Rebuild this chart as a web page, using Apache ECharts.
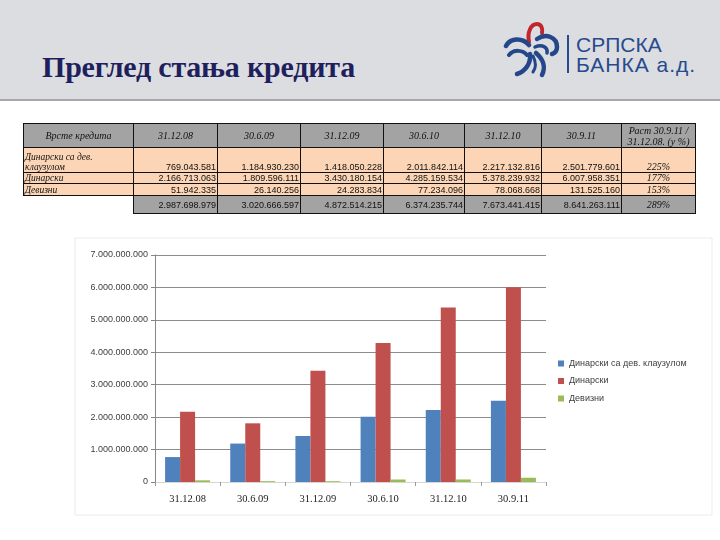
<!DOCTYPE html>
<html>
<head>
<meta charset="utf-8">
<script src="https://cdn.jsdelivr.net/npm/echarts@6/dist/echarts.min.js"></script>
<style>
  html, body { margin:0; padding:0; background:#fff; }
  #wrap { position:relative; width:720px; height:540px; overflow:hidden; background:#fff; }
  #chart { position:absolute; left:0; top:0; width:720px; height:540px; }
  #band { position:absolute; left:0; top:0; width:720px; height:99px; background:#dcdde0; border-bottom:2px solid #a8a8a8; }
  #title { position:absolute; left:42px; top:50px; margin:0; font-family:"Liberation Serif","DejaVu Serif",serif; font-weight:bold; font-size:30px; color:#1f1f5e; white-space:nowrap; letter-spacing:-0.2px; }
  #logo { position:absolute; left:500px; top:20px; }
  .logotxt { position:absolute; left:576px; font-family:"Liberation Sans",Arial,sans-serif; font-size:21px; color:#274a8e; white-space:nowrap; line-height:21px; }
  #tbl { position:absolute; left:23px; top:123px; border-collapse:collapse; table-layout:fixed; }
  #tbl td { border:1px solid #111; padding:0 1px; overflow:hidden; white-space:nowrap; font-family:"Liberation Sans",Arial,sans-serif; font-size:9px; color:#111; line-height:10px; box-sizing:border-box; }
  #tbl tr.h td { background:#a3a3a3; font-family:"Liberation Serif",serif; font-style:italic; font-size:10px; text-align:center; height:24px; line-height:11px; }
  #tbl tr.d td { background:#fbd5b5; text-align:right; vertical-align:bottom; }
  #tbl tr.d td.lab { text-align:left; font-family:"Liberation Serif",serif; font-style:italic; font-size:9.5px; }
  #tbl tr.d td.pct { text-align:center; font-family:"Liberation Serif",serif; font-style:italic; font-size:10px; }
  #tbl tr.t td { background:#a3a3a3; text-align:right; height:18px; vertical-align:middle; }
  #tbl tr.t td.blank { background:transparent; border:none; }
  #tbl tr.t td.pct { text-align:center; font-family:"Liberation Serif",serif; font-style:italic; font-size:10px; }
</style>
</head>
<body>
<div id="wrap">
  <div id="chart"></div>
  <div id="band"></div>
  <div id="title">Преглед стања кредита</div>
  <svg id="logo" width="66" height="60" viewBox="0 0 66 60">
    <g fill="none" stroke-linecap="round">
      <path d="M29 22 C 27 12, 31 4, 37 4 C 41 4, 43 8, 42 13" stroke="#c0272d" stroke-width="4"/>
      <path d="M6 26 C 10 18, 22 17, 29 25" stroke="#24468a" stroke-width="4.5"/>
      <path d="M9 35 C 14 29, 23 30, 27 35" stroke="#24468a" stroke-width="4"/>
      <path d="M37 19 C 46 13, 57 17, 57 27 C 57 31, 55 33, 52 34" stroke="#24468a" stroke-width="4.5"/>
      <path d="M35 27 C 42 24, 48 27, 47 33" stroke="#24468a" stroke-width="3.5"/>
      <path d="M30 34 C 31 43, 26 51, 17 54" stroke="#24468a" stroke-width="4.5"/>
      <path d="M36 33 C 43 39, 46 47, 42 55" stroke="#24468a" stroke-width="4.5"/>
      <path d="M33 36 C 36 42, 36 48, 33 52" stroke="#24468a" stroke-width="3"/>
    </g>
  </svg>
  <div style="position:absolute;left:567px;top:35px;width:2px;height:38px;background:#274a8e"></div>
  <div class="logotxt" style="top:34px">СРПСКА</div>
  <div class="logotxt" style="top:54px;letter-spacing:1px">БАНКА а.д.</div>
  <table id="tbl"></table>
</div>
<script>
// ---- data ----
const categories = ['31.12.08', '30.6.09', '31.12.09', '30.6.10', '31.12.10', '30.9.11'];
const seriesNames = ['Динарски са дев. клаузулом', 'Динарски', 'Девизни'];
const rowLabels = ['Динарски са дев.<br>клаузулом', 'Динарски', 'Девизни'];
const dinarskiDevKlauzula = [769043581, 1184930230, 1418050228, 2011842114, 2217132816, 2501779601];
const dinarski = [2166713063, 1809596111, 3430180154, 4285159534, 5378239932, 6007958351];
const devizni = [51942335, 26140256, 24283834, 77234096, 78068668, 131525160];
const totals = [2987698979, 3020666597, 4872514215, 6374235744, 7673441415, 8641263111];
const growth = ['225%', '177%', '153%'];
const totalGrowth = '289%';
const firstHeader = 'Врсте кредита';
const growthHeader = 'Раст 30.9.11 /<br>31.12.08. (у %)';
const yMin = 0, yMax = 7000000000, yStep = 1000000000;
const colors = ['#4f81bd', '#c0504d', '#9bbb59'];

function fmt(v) { return String(v).replace(/\B(?=(\d{3})+(?!\d))/g, '.'); }

// ---- table ----
const colW = [110, 84, 83, 83, 81, 77, 80, 74];
const tbl = document.getElementById('tbl');
let html = '<colgroup>' + colW.map(w => '<col style="width:' + w + 'px">').join('') + '</colgroup>';
html += '<tr class="h"><td>' + firstHeader + '</td>' + categories.map(c => '<td>' + c + '</td>').join('') + '<td>' + growthHeader + '</td></tr>';
const rowsData = [dinarskiDevKlauzula, dinarski, devizni];
const rowH = [25, 11, 12];
rowsData.forEach((arr, i) => {
  html += '<tr class="d"><td class="lab" style="height:' + rowH[i] + 'px">' + rowLabels[i] + '</td>' +
    arr.map(v => '<td>' + fmt(v) + '</td>').join('') + '<td class="pct">' + growth[i] + '</td></tr>';
});
html += '<tr class="t"><td class="blank"></td>' + totals.map(v => '<td>' + fmt(v) + '</td>').join('') + '<td class="pct">' + totalGrowth + '</td></tr>';
tbl.innerHTML = html;

// ---- chart ----
const chart = echarts.init(document.getElementById('chart'), null, { renderer: 'canvas' });
const splitColors = [];
for (let v = yMin; v <= yMax; v += yStep) splitColors.push(v === 0 ? 'rgba(0,0,0,0)' : '#8c8c8c');
chart.setOption({
  animation: false,
  backgroundColor: '#ffffff',
  color: colors,
  graphic: [{
    type: 'rect', shape: { x: 75, y: 238, width: 637, height: 277 },
    style: { fill: 'none', stroke: '#ebebeb', lineWidth: 1 }, silent: true
  }],
  grid: { left: 155, top: 255, width: 391, height: 227 },
  legend: {
    orient: 'vertical', left: 553, top: 354, itemWidth: 6, itemHeight: 6, itemGap: 8.5,
    icon: 'rect', data: seriesNames,
    textStyle: { fontSize: 9, color: '#404040', fontFamily: 'Liberation Sans' }
  },
  xAxis: {
    type: 'category', data: categories,
    axisLine: { show: true, lineStyle: { color: '#d6d6d6' } },
    axisTick: { show: true, length: 4, lineStyle: { color: '#9a9a9a' } },
    axisLabel: { margin: 12, fontSize: 10.5, color: '#222', fontFamily: 'Liberation Serif' }
  },
  yAxis: {
    type: 'value', min: yMin, max: yMax, interval: yStep,
    axisLine: { show: true, lineStyle: { color: '#868686' } },
    axisTick: { show: true, length: 4, lineStyle: { color: '#868686' } },
    splitLine: { show: true, lineStyle: { color: splitColors, width: 1 } },
    axisLabel: { margin: 7, fontSize: 9, color: '#404040', fontFamily: 'Liberation Sans', formatter: v => fmt(v) }
  },
  series: [
    { name: seriesNames[0], type: 'bar', data: dinarskiDevKlauzula, barWidth: 15, barGap: '0%' },
    { name: seriesNames[1], type: 'bar', data: dinarski, barWidth: 15, barGap: '0%' },
    { name: seriesNames[2], type: 'bar', data: devizni, barWidth: 15, barGap: '0%' }
  ]
});
</script>
</body>
</html>
